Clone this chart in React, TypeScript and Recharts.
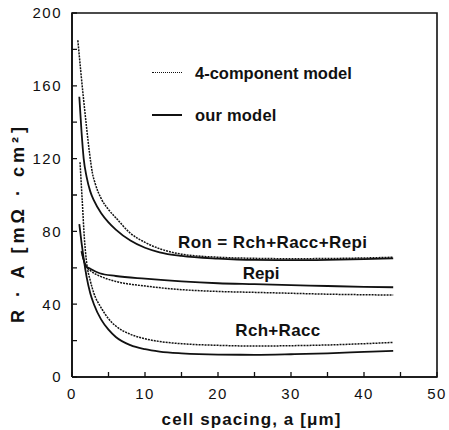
import React from 'react';
import { LineChart, Line, XAxis, YAxis, ReferenceDot, Legend } from 'recharts';

// Ron = Rch + Racc + Repi
const ronOurX = [1, 1.3, 1.6, 2, 2.5, 3, 4, 5, 6, 8, 10, 12, 15, 20, 25, 30, 35, 40, 44];
const ronOurY = [154, 135, 120, 110, 102, 97, 90, 85, 81, 75, 71, 68.5, 66.5, 65, 64.3, 64.2, 64.4, 64.8, 65.2];
const ron4X = [0.8, 1.2, 1.6, 2, 2.4, 2.8, 3.2, 4, 5, 6, 8, 10, 12, 15, 20, 25, 30, 35, 40, 44];
const ron4Y = [185, 168, 152, 137, 123, 112, 106, 98, 92, 87.5, 79, 74, 70.5, 67.5, 65.8, 65.2, 65, 65.1, 65.4, 65.8];

// Repi
const repiOurX = [1.3, 1.9, 2.5, 3.8, 6, 10, 15, 20, 25, 30, 35, 40, 44];
const repiOurY = [69, 61, 59.5, 57, 55.5, 54, 52.5, 51.5, 51, 50.5, 50, 49.5, 49.3];
const repi4X = [1.3, 1.9, 2.5, 3.8, 6, 10, 15, 20, 25, 30, 35, 40, 44];
const repi4Y = [69, 61, 58.5, 55.5, 52.5, 50, 48, 47, 46.5, 46, 45.5, 45.2, 45];

// Rch + Racc
const rchOurX = [1, 1.3, 1.6, 2, 2.5, 3, 4, 5, 6, 8, 10, 12, 15, 20, 25, 30, 35, 40, 44];
const rchOurY = [84, 74, 65, 55, 46, 40, 31.5, 26, 22, 17.5, 15.3, 14, 13, 12.3, 12.2, 12.5, 13, 13.8, 14.4];
const rch4X = [1.1, 1.4, 1.7, 2, 2.5, 3, 4, 5, 6, 8, 10, 12, 15, 20, 25, 30, 35, 40, 44];
const rch4Y = [118, 97, 76, 63, 53, 46, 38, 32, 28, 23.5, 21, 19.5, 18.3, 17.4, 17, 17.2, 17.6, 18.3, 19];

const xLabelTicks = [0, 10, 20, 30, 40, 50];
const yLabelTicks = [0, 40, 80, 120, 160, 200];
const xMinorTicks = [0, 5, 10, 15, 20, 25, 30, 35, 40, 45, 50];
const yMinorTicks = [0, 20, 40, 60, 80, 100, 120, 140, 160, 180, 200];
const X_DOMAIN: [number, number] = [0, 50];
const Y_DOMAIN: [number, number] = [0, 200];

const legendItems = ['4-component model', 'our model'];
const curveLabels = ['Ron = Rch+Racc+Repi', 'Repi', 'Rch+Racc'];

const zip = (xs: number[], ys: number[]) => xs.map((x, i) => ({ x, y: ys[i] }));

const FONT = '"Liberation Sans", Arial, Helvetica, sans-serif';
const INK = '#111';

// inward tick length as a fraction of each axis span
const TICK_FRAC_X = 5 / 364;
const TICK_FRAC_Y = 5 / 365;

const frameData = [
  { x: X_DOMAIN[0], y: Y_DOMAIN[0] },
  { x: X_DOMAIN[1], y: Y_DOMAIN[0] },
  { x: X_DOMAIN[1], y: Y_DOMAIN[1] },
  { x: X_DOMAIN[0], y: Y_DOMAIN[1] },
  { x: X_DOMAIN[0], y: Y_DOMAIN[0] },
];
const yTickLen = (Y_DOMAIN[1] - Y_DOMAIN[0]) * TICK_FRAC_X;
const xTickLen = (X_DOMAIN[1] - X_DOMAIN[0]) * TICK_FRAC_Y;
const xTickMarks = xMinorTicks.flatMap((v) => [
  { x: v, y: Y_DOMAIN[0] },
  { x: v, y: Y_DOMAIN[0] + yTickLen },
  { x: v, y: null },
]);
const yTickMarks = yMinorTicks.flatMap((v) => [
  { x: X_DOMAIN[0], y: v },
  { x: X_DOMAIN[0] + xTickLen, y: v },
  { x: X_DOMAIN[0] + xTickLen, y: null },
]);

const makeLabel = (text: string, spacing: number) => (props: any) => {
  const { viewBox } = props;
  return (
    <text
      x={viewBox.x}
      y={viewBox.y + 6}
      textAnchor="middle"
      fontFamily={FONT}
      fontWeight="bold"
      fontSize={17}
      fill={INK}
      letterSpacing={spacing}
    >
      {text}
    </text>
  );
};

const legendText: React.CSSProperties = {
  fontFamily: FONT,
  fontWeight: 'bold',
  fontSize: 16.5,
  color: INK,
  whiteSpace: 'nowrap',
  lineHeight: '18px',
};

const LegendBox = () => (
  <div style={{ width: 215, height: 70, position: 'relative' }}>
    <div style={{ position: 'absolute', left: 2, top: 12, width: 30, borderTop: `1.5px dotted ${INK}` }} />
    <div style={{ position: 'absolute', left: 45, top: 4, ...legendText, letterSpacing: 0 }}>{legendItems[0]}</div>
    <div style={{ position: 'absolute', left: 2, top: 54, width: 30, borderTop: `2px solid ${INK}` }} />
    <div style={{ position: 'absolute', left: 45, top: 46, ...legendText, letterSpacing: 0.2 }}>{legendItems[1]}</div>
  </div>
);

const tickStyle = { fontFamily: FONT, fontSize: 15, fill: INK, letterSpacing: 1.5 };

const XLabel = (p: any) => {
  const vb = p.viewBox;
  return (
    <text x={vb.x + vb.width / 2 - 3} y={vb.y + 48} textAnchor="middle" fontFamily={FONT} fontWeight="bold" fontSize={17} fill={INK} letterSpacing={1.1}>
      cell spacing, a [μm]
    </text>
  );
};

const YLabel = (p: any) => {
  const vb = p.viewBox;
  const cx = vb.x + 24;
  const cy = vb.y + vb.height / 2 + 28;
  return (
    <text x={cx} y={cy} transform={`rotate(-90 ${cx} ${cy})`} textAnchor="middle" fontFamily={FONT} fontWeight="bold" fontSize={18} fill={INK} letterSpacing={4}>
      R · A [mΩ · cm²]
    </text>
  );
};

export default function App() {
  return (
    <div style={{ position: 'absolute', left: 0, top: 0, width: 449, height: 430 }}>
      <LineChart width={449} height={430} margin={{ top: 13, right: 12, bottom: 0, left: 0 }}>
        <XAxis
          xAxisId="b"
          dataKey="x"
          type="number"
          domain={X_DOMAIN}
          ticks={xLabelTicks}
          interval={0}
          tickSize={-5}
          tickMargin={16}
          height={53}
          axisLine={{ stroke: INK, strokeWidth: 1.6 }}
          tickLine={false}
          tick={tickStyle}
          label={XLabel}
        />
        <YAxis
          yAxisId="l"
          type="number"
          domain={Y_DOMAIN}
          ticks={yLabelTicks}
          interval={0}
          tickSize={-5}
          tickMargin={15}
          width={72}
          axisLine={{ stroke: INK, strokeWidth: 1.6 }}
          tickLine={false}
          tick={tickStyle}
          label={YLabel}
        />
        <Legend
          layout="horizontal"
          verticalAlign="middle"
          align="center"
          content={() => <LegendBox />}
          wrapperStyle={{ left: 150, top: 60, width: 215, height: 70 }}
        />

        {/* frame and inward ticks */}
        <Line xAxisId="b" yAxisId="l" data={frameData} dataKey="y" type="linear" stroke={INK} strokeWidth={1.6} dot={false} activeDot={false} isAnimationActive={false} legendType="none" />
        <Line xAxisId="b" yAxisId="l" data={xTickMarks} dataKey="y" type="linear" stroke={INK} strokeWidth={1.3} dot={false} activeDot={false} connectNulls={false} isAnimationActive={false} legendType="none" />
        <Line xAxisId="b" yAxisId="l" data={yTickMarks} dataKey="y" type="linear" stroke={INK} strokeWidth={1.3} dot={false} activeDot={false} connectNulls={false} isAnimationActive={false} legendType="none" />

        <Line xAxisId="b" yAxisId="l" data={zip(ron4X, ron4Y)} dataKey="y" type="monotone" stroke={INK} strokeWidth={1.5} strokeDasharray="2 1" dot={false} isAnimationActive={false} legendType="none" />
        <Line xAxisId="b" yAxisId="l" data={zip(ronOurX, ronOurY)} dataKey="y" type="monotone" stroke={INK} strokeWidth={1.8} dot={false} isAnimationActive={false} legendType="none" />
        <Line xAxisId="b" yAxisId="l" data={zip(repi4X, repi4Y)} dataKey="y" type="monotone" stroke={INK} strokeWidth={1.5} strokeDasharray="2 1" dot={false} isAnimationActive={false} legendType="none" />
        <Line xAxisId="b" yAxisId="l" data={zip(repiOurX, repiOurY)} dataKey="y" type="monotone" stroke={INK} strokeWidth={1.8} dot={false} isAnimationActive={false} legendType="none" />
        <Line xAxisId="b" yAxisId="l" data={zip(rch4X, rch4Y)} dataKey="y" type="monotone" stroke={INK} strokeWidth={1.5} strokeDasharray="2 1" dot={false} isAnimationActive={false} legendType="none" />
        <Line xAxisId="b" yAxisId="l" data={zip(rchOurX, rchOurY)} dataKey="y" type="monotone" stroke={INK} strokeWidth={1.8} dot={false} isAnimationActive={false} legendType="none" />

        <ReferenceDot xAxisId="b" yAxisId="l" x={27.5} y={74.2} r={0} stroke="none" fill="none" label={makeLabel(curveLabels[0], 0.4)} />
        <ReferenceDot xAxisId="b" yAxisId="l" x={25.9} y={57.1} r={0} stroke="none" fill="none" label={makeLabel(curveLabels[1], 0)} />
        <ReferenceDot xAxisId="b" yAxisId="l" x={28.2} y={25.8} r={0} stroke="none" fill="none" label={makeLabel(curveLabels[2], 0.3)} />
      </LineChart>
    </div>
  );
}
